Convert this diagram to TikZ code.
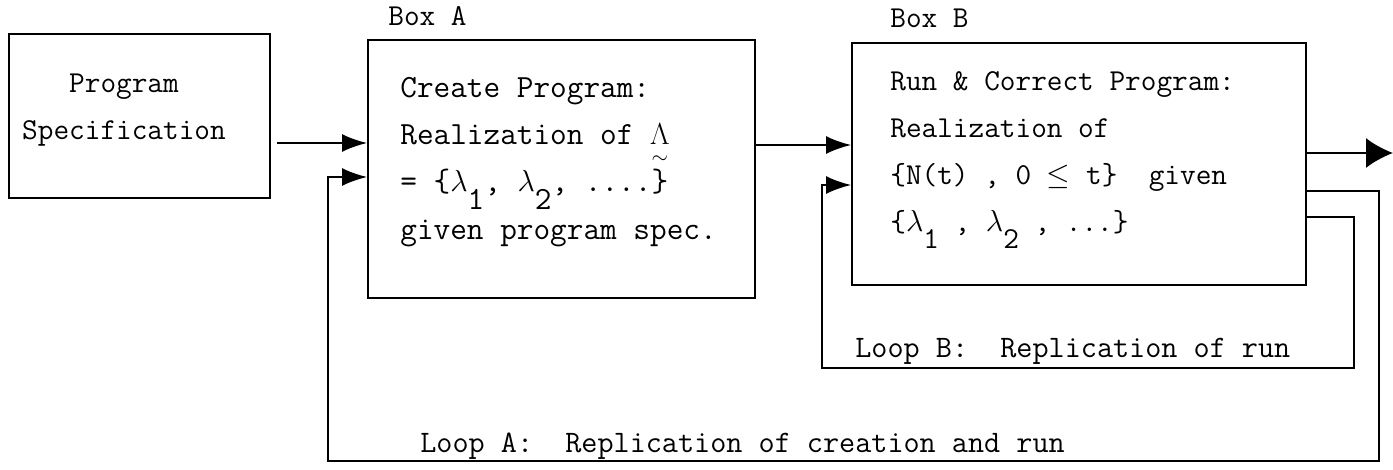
\documentclass[tikz,border=0pt]{standalone}
\usepackage{amsmath}
\usepackage{fontspec}
\usetikzlibrary{positioning,arrows.meta}

\newcommand{\lowsub}[1]{\raisebox{-0.55em}{#1}}
\newcommand{\lam}{\ensuremath{\lambda}}
\newcommand{\lamtilde}{\ensuremath{\underset{\sim}{\Lambda}}}

\tikzset{
  blockbox/.style={draw, line width=1.1pt, inner sep=0pt},
  flow/.style={line width=1.1pt, -{Latex[length=5mm,width=3.6mm]}},
  bigflow/.style={line width=1.1pt, -{Latex[length=5.4mm,width=6mm]}},
  smalltype/.style={font=\fontsize{17.3}{26.8}\selectfont\ttfamily},
  bigtype/.style={font=\fontsize{18.4}{26.8}\selectfont\ttfamily},
  looptype/.style={font=\fontsize{17.8}{26.8}\selectfont\ttfamily},
}

\begin{document}
\begin{tikzpicture}[x=0.2mm, y=-0.2mm, smalltype]
  \useasboundingbox (0,0) rectangle (1393,470);

  % Boxes
  \node[blockbox, minimum width=52.2mm, minimum height=32.8mm] (spec) at (139.5,116) {};
  \node[blockbox, minimum width=77.4mm, minimum height=51.6mm] (boxA) at (561.5,169) {};
  \node[blockbox, minimum width=90.8mm, minimum height=48.4mm] (boxB) at (1079,164) {};

  % Box texts
  \node[align=center, inner sep=0pt] (spectxt) at (124,110) {Program\\Specification};
  \node[anchor=west, align=left, inner sep=0pt, bigtype] (boxAtxt) at (400,162)
    {Create Program:\\
     Realization of \lamtilde\\
     = \{\lam\lowsub{1}, \lam\lowsub{2}, ....\}\\
     given program spec.};
  \node[anchor=west, align=left, inner sep=0pt] (boxBtxt) at (890,160)
    {Run \& Correct Program:\\
     Realization of\\
     \{N(t) , 0 $\leq$ t\}\ \ given\\
     \{\lam\lowsub{1} , \lam\lowsub{2} , ...\}};

  % Box labels
  \node[anchor=base west, inner sep=0pt] (boxAlbl) at (388,26) {Box A};
  \node[anchor=base west, inner sep=0pt] (boxBlbl) at (890,28) {Box B};

  % Ports
  \path (boxA.west) ++(0,-26) coordinate (inA1);
  \path (boxA.west) ++(0,8) coordinate (inA2);
  \path (boxB.west) ++(0,-19) coordinate (inB1);
  \path (boxB.west) ++(0,21) coordinate (inB2);
  \path (boxB.east) ++(0,-11) coordinate (outB);
  \path (boxB.east) ++(0,27) coordinate (retA);
  \path (boxB.east) ++(0,53) coordinate (retB);
  \coordinate (outEnd) at (1393,153);
  \coordinate (loopBse) at (1354,368);
  \coordinate (loopBnw) at (822,185);
  \coordinate (loopAse) at (1379,461);
  \coordinate (loopAnw) at (328,177);

  % Forward arrows
  \draw[flow, shorten <=1.2mm] (spec.east |- inA1) -- (inA1);
  \draw[flow] (boxA.east |- inB1) -- (inB1);
  \draw[bigflow] (outB) -- (outEnd);

  % Loop B
  \draw[flow] (retB) -| (loopBse) -| (loopBnw) -- (inB2);
  \node[anchor=base west, inner sep=0pt, looptype] (loopBlbl) at (855,357) {Loop B:\ \ Replication of run};

  % Loop A
  \draw[flow] (retA) -| (loopAse) -| (loopAnw) -- (inA2);
  \node[anchor=base west, inner sep=0pt, looptype] (loopAlbl) at (420,452) {Loop A:\ \ Replication of creation and run};
\end{tikzpicture}
\end{document}
